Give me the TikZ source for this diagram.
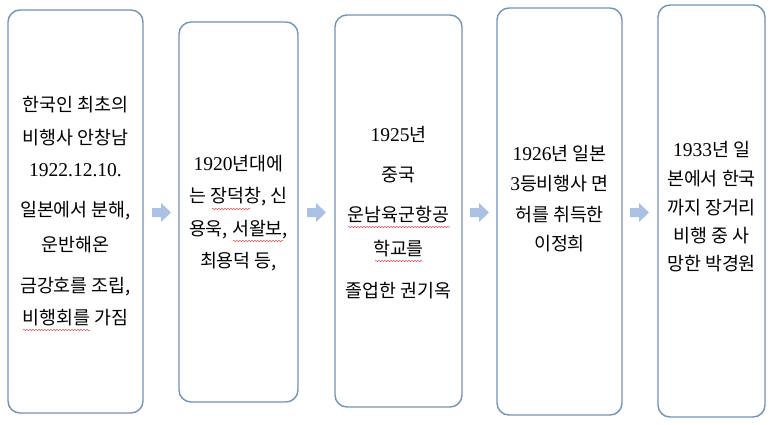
\documentclass[tikz,border=0pt]{standalone}
\usepackage{fontspec}
\setmainfont{Noto Sans CJK KR}
\newfontfamily\dgfont{Liberation Serif}
\newcommand{\dg}{\dgfont\fontsize{19.5}{21}\selectfont}
\usetikzlibrary{decorations.pathmorphing}
\definecolor{boxline}{HTML}{7393B7}
\definecolor{arrowfill}{HTML}{A9C1E3}
\definecolor{squig}{HTML}{E04040}
\tikzset{
  x=1pt,y=-1pt,
  stagebox/.style={draw=boxline,line width=1.4pt,rounded corners=12pt,fill=white},
  txt/.style={inner sep=0pt,font=\fontsize{18.4}{20}\selectfont,text height=0.88em,text depth=0.12em,anchor=center},
  flowarrow/.style={fill=arrowfill,draw=none},
  squiggle/.style={draw=squig,line width=0.5pt,decorate,decoration={snake,amplitude=0.6pt,segment length=3pt}}
}
\begin{document}
\begin{tikzpicture}
\useasboundingbox (0,0) rectangle (773,424);
\fill[white] (0,0) rectangle (773,424);
% boxes
\draw[stagebox] (8,10) rectangle (143,413);
\draw[stagebox] (179,22) rectangle (298,402);
\draw[stagebox] (335,15) rectangle (462,407);
\draw[stagebox] (497,8) rectangle (622,415);
\draw[stagebox] (658,5) rectangle (765,417);
% box 1 text
\node[txt] (t11) at (75.5,108) {한국인 최초의};
\node[txt] (t12) at (75.5,141) {비행사 안창남};
\node[txt] (t13) at (75.5,173) {\dg 1922.12.10.};
\node[txt] (t14) at (75.5,213) {일본에서 분해,};
\node[txt] (t15) at (75.5,248) {운반해온};
\node[txt] (t16) at (75.5,289) {금강호를 조립,};
\node[txt] (t17) at (75.5,321) {비행회를 가짐};
% box 2 text
\node[txt] (t21) at (238.5,167) {{\dg 1920}년대에};
\node[txt] (t22) at (238.5,199) {는 장덕창, 신};
\node[txt] (t23) at (238.5,232) {용욱, 서왈보,};
\node[txt] (t24) at (238.5,264) {최용덕 등,};
% box 3 text
\node[txt] (t31) at (398.5,138) {{\dg 1925}년};
\node[txt] (t32) at (398.5,178) {중국};
\node[txt] (t33) at (398.5,218) {운남육군항공};
\node[txt] (t34) at (398.5,252) {학교를};
\node[txt] (t35) at (398.5,294) {졸업한 권기옥};
% box 4 text
\node[txt] (t41) at (559.5,157) {{\dg 1926}년 일본};
\node[txt] (t42) at (559.5,187) {{\dg 3}등비행사 면};
\node[txt] (t43) at (559.5,218) {허를 취득한};
\node[txt] (t44) at (559.5,247) {이정희};
% box 5 text
\node[txt] (t51) at (711.5,153) {{\dg 1933}년 일};
\node[txt] (t52) at (711.5,182) {본에서 한국};
\node[txt] (t53) at (711.5,211) {까지 장거리};
\node[txt] (t54) at (711.5,239) {비행 중 사};
\node[txt] (t55) at (711.5,267) {망한 박경원};
% spell-check squiggles
\draw[squiggle] (23,330) -- (90,330);
\draw[squiggle] (212,209) -- (250,209);
\draw[squiggle] (233,241) -- (283,241);
\draw[squiggle] (348,227) -- (450,227);
\draw[squiggle] (375,261) -- (423,261);
% arrows
\foreach \ax in {152,307,470,630}{
  \fill[flowarrow] (\ax,208) -- (\ax+9,208) -- (\ax+9,203) -- (\ax+19,212.5) -- (\ax+9,222) -- (\ax+9,217) -- (\ax,217) -- cycle;
}
\end{tikzpicture}
\end{document}
